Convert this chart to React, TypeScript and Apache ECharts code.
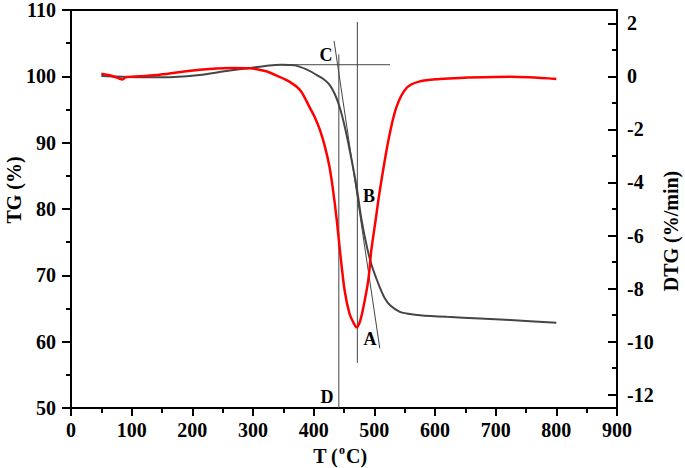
import React, { useEffect, useRef } from "react";
import * as echarts from "echarts";

// TG curve (temperature °C, mass %)
const tgT = [50, 85, 130, 170, 212, 253, 295, 327, 347, 369, 389, 405, 416, 426, 435, 443, 451, 460, 471, 479, 489, 496, 503, 509, 517, 526, 542, 553, 575, 619, 674, 724, 800];
const tgV = [100.05, 99.95, 99.85, 99.9, 100.2, 100.75, 101.27, 101.65, 101.75, 101.65, 101.0, 100.2, 99.6, 98.75, 97.3, 95.3, 92.5, 88.6, 83.2, 78.3, 73.8, 71.4, 69.6, 68.2, 66.6, 65.5, 64.5, 64.25, 64.0, 63.74, 63.5, 63.25, 62.85];

// DTG curve (temperature °C, %/min)
const dtgT = [50, 64, 77, 85, 90, 113, 146, 212, 266, 295, 320, 340, 360, 377, 385, 393, 402, 410, 418, 426, 432, 438, 443, 451, 459, 466, 471, 476, 481, 490, 495, 502, 509, 523, 536, 553, 575, 608, 641, 724, 800];
const dtgV = [0.1, 0.04, -0.06, -0.12, -0.04, 0, 0.06, 0.25, 0.31, 0.3, 0.2, 0.02, -0.2, -0.5, -0.79, -1.15, -1.55, -2.0, -2.6, -3.4, -4.3, -5.4, -6.5, -8.06, -8.94, -9.3, -9.46, -9.26, -8.81, -7.69, -6.56, -5.44, -4.31, -2.44, -1.19, -0.44, -0.19, -0.1, -0.06, -0.02, -0.1];

// Construction lines (T, TG)
const lineHoriz = [[347, 101.75], [526, 101.75]];
const lineMin = [[472, 108.2], [472, 56.8]];
const lineD = [[441.5, 103.3], [441.5, 50]];
const lineTangent = [[433.6, 105.35], [509, 59.0]];

const xTicks = { min: 0, max: 900, interval: 100 };
const tgAxis = { min: 50, max: 110, interval: 10 };
const dtgAxis = { min: -12.5, max: 2.5 };
const dtgMajor = [-12, -10, -8, -6, -4, -2, 0, 2];
const dtgMinor = [-11, -9, -7, -5, -3, -1, 1];

const FONT = "'Liberation Serif', 'Times New Roman', serif";

export default function App() {
  const ref = useRef<HTMLDivElement>(null);
  useEffect(() => {
    const chart = echarts.init(ref.current!, null, { renderer: "svg" });
    const axisLine = { show: true, onZero: false, lineStyle: { color: "#000", width: 2 } };
    const labelStyle = { color: "#000", fontFamily: FONT, fontWeight: "bold", fontSize: 20 };
    const annot = (data: number[][]) => ({
      type: "line",
      xAxisIndex: 0,
      yAxisIndex: 0,
      data,
      symbol: "none",
      silent: true,
      lineStyle: { color: "#444", width: 1 },
    });
    chart.setOption({
      animation: false,
      grid: { left: 71, right: 68, top: 8, bottom: 60 },
      xAxis: [
        {
          type: "value",
          position: "bottom",
          ...xTicks,
          axisLine,
          axisTick: { show: true, length: 8, lineStyle: { color: "#000", width: 2 } },
          minorTick: { show: true, splitNumber: 2, length: 5, lineStyle: { color: "#000", width: 2 } },
          splitLine: { show: false },
          axisLabel: { ...labelStyle, margin: 12 },
        },
        {
          type: "value",
          position: "top",
          ...xTicks,
          axisLine,
          axisTick: { show: false },
          axisLabel: { show: false },
          splitLine: { show: false },
        },
      ],
      yAxis: [
        {
          type: "value",
          position: "left",
          ...tgAxis,
          axisLine,
          axisTick: { show: true, length: 9, lineStyle: { color: "#000", width: 2 } },
          minorTick: { show: true, splitNumber: 2, length: 5, lineStyle: { color: "#000", width: 2 } },
          splitLine: { show: false },
          axisLabel: { ...labelStyle, margin: 15 },
        },
        {
          type: "value",
          position: "right",
          ...dtgAxis,
          axisLine,
          axisTick: { show: true, inside: true, length: 9, customValues: dtgMajor, lineStyle: { color: "#000", width: 2 } },
          splitLine: { show: false },
          axisLabel: { ...labelStyle, margin: 10, customValues: dtgMajor },
        },
        {
          type: "value",
          position: "right",
          ...dtgAxis,
          axisLine: { show: false, onZero: false },
          axisTick: { show: true, inside: true, length: 5, customValues: dtgMinor, lineStyle: { color: "#000", width: 2 } },
          splitLine: { show: false },
          axisLabel: { show: false },
        },
      ],
      series: [
        annot(lineHoriz),
        annot(lineMin),
        annot(lineD),
        annot(lineTangent),
        {
          type: "line",
          name: "TG",
          yAxisIndex: 0,
          data: tgT.map((t, i) => [t, tgV[i]]),
          symbol: "none",
          smooth: 0.3,
          lineStyle: { color: "#454545", width: 2 },
        },
        {
          type: "line",
          name: "DTG",
          yAxisIndex: 1,
          data: dtgT.map((t, i) => [t, dtgV[i]]),
          symbol: "none",
          smooth: 0.3,
          lineStyle: { color: "#ff0000", width: 2.5 },
        },
      ],
      graphic: [
        {
          type: "text",
          x: 14,
          y: 190,
          rotation: Math.PI / 2,
          style: { text: "TG (%)", fill: "#000", font: `bold 20px ${FONT}`, align: "center", verticalAlign: "middle" },
        },
        {
          type: "text",
          x: 671,
          y: 231,
          rotation: Math.PI / 2,
          style: { text: "DTG (%/min)", fill: "#000", font: `bold 20px ${FONT}`, align: "center", verticalAlign: "middle" },
        },
        {
          type: "text",
          x: 340,
          y: 455,
          style: {
            text: "{a|T (}{s|o}{a|C)}",
            align: "center",
            verticalAlign: "middle",
            rich: {
              a: { fill: "#000", fontFamily: FONT, fontWeight: "bold", fontSize: 20, lineHeight: 22, verticalAlign: "bottom" },
              s: { fill: "#000", fontFamily: FONT, fontWeight: "bold", fontSize: 12, lineHeight: 22, verticalAlign: "top", padding: [0, 1, 0, 1] },
            },
          },
        },
        { type: "text", x: 326, y: 55, style: { text: "C", fill: "#000", font: `bold 18px ${FONT}`, align: "center", verticalAlign: "middle" } },
        { type: "text", x: 369, y: 196, style: { text: "B", fill: "#000", font: `bold 18px ${FONT}`, align: "center", verticalAlign: "middle" } },
        { type: "text", x: 370, y: 339, style: { text: "A", fill: "#000", font: `bold 18px ${FONT}`, align: "center", verticalAlign: "middle" } },
        { type: "text", x: 327, y: 397, style: { text: "D", fill: "#000", font: `bold 18px ${FONT}`, align: "center", verticalAlign: "middle" } },
      ],
    });
    return () => chart.dispose();
  }, []);
  return <div ref={ref} style={{ position: "fixed", left: 0, top: 0, width: 685, height: 468, background: "#fff" }} />;
}
